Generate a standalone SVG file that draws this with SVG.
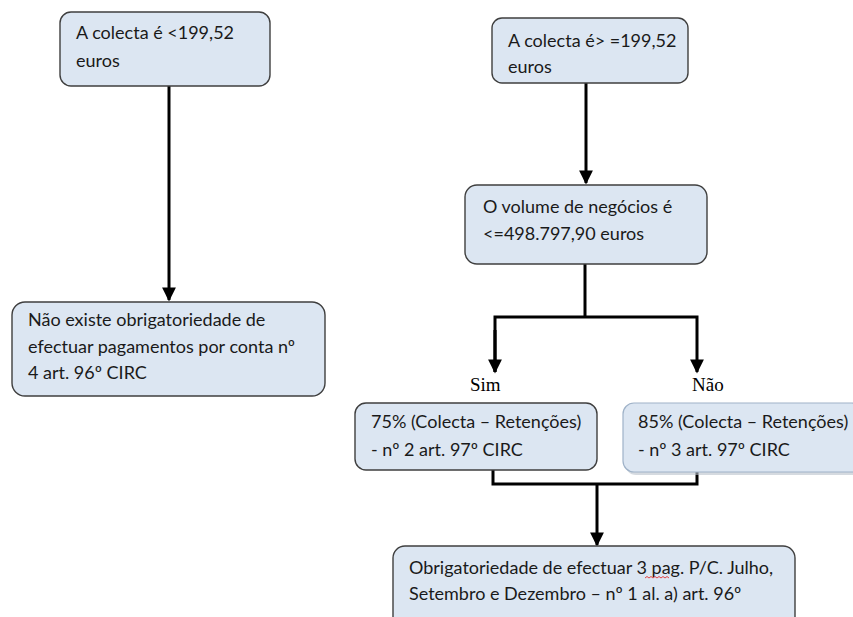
<svg xmlns="http://www.w3.org/2000/svg" width="853" height="617" viewBox="0 0 853 617">
  <style>
    .box { fill: #dce6f2; stroke: #3f3f3f; stroke-width: 1.4; }
    .soft { fill: #dce6f2; stroke: #9fb2c8; stroke-width: 1.2; }
    .shadow { fill: #b9c2cc; opacity: 0.6; }
    .t { font-family: Lato, "Liberation Sans", sans-serif; font-size: 18px; fill: #1a1a1a; }
    .lbl { font-family: "Liberation Serif", serif; font-size: 19px; fill: #000; }
    .wire { fill: none; stroke: #000; stroke-width: 3; }
    .squiggle { fill: none; stroke: #e03030; stroke-width: 0.9; }
  </style>
  <defs>
    <marker id="arrow" viewBox="0 0 10 10" refX="9" refY="5" markerWidth="4.8" markerHeight="4.6" orient="auto" markerUnits="strokeWidth">
      <path d="M0,0 L10,5 L0,10 Z" fill="#000"/>
    </marker>
  </defs>
  <rect width="853" height="617" fill="#fff"/>

  <g id="connectors">
    <line class="wire" x1="169" y1="86" x2="169" y2="300" marker-end="url(#arrow)"/>
    <line class="wire" x1="586" y1="83" x2="586" y2="183" marker-end="url(#arrow)"/>
    <polyline class="wire" points="585,264 585,317"/>
    <polyline class="wire" points="495,372 495,317 697,317 697,372" marker-end="url(#arrow)"/>
    <line class="wire" x1="495" y1="330" x2="495" y2="372" marker-end="url(#arrow)"/>
    <polyline class="wire" points="493,470 493,484 697,484 697,472"/>
    <line class="wire" x1="597" y1="484" x2="597" y2="545" marker-end="url(#arrow)"/>
  </g>

  <g id="n1">
    <rect class="box" x="60" y="12" width="210" height="74" rx="11"/>
    <text class="t" x="76" y="39">A colecta é &lt;199,52</text>
    <text class="t" x="76" y="67">euros</text>
  </g>

  <g id="n2">
    <rect class="box" x="12" y="302" width="313" height="94" rx="13"/>
    <text class="t" x="28" y="326">Não existe obrigatoriedade de</text>
    <text class="t" x="28" y="353">efectuar pagamentos por conta nº</text>
    <text class="t" x="28" y="379">4 art. 96º CIRC</text>
  </g>

  <g id="n3">
    <rect class="box" x="492" y="18" width="196" height="65" rx="10"/>
    <text class="t" x="508" y="47">A colecta é&gt; =199,52</text>
    <text class="t" x="508" y="73">euros</text>
  </g>

  <g id="n4">
    <rect class="box" x="465" y="185" width="242" height="79" rx="12"/>
    <text class="t" x="483" y="213">O volume de negócios é</text>
    <text class="t" x="483" y="240">&lt;=498.797,90 euros</text>
  </g>

  <g id="sim">
    <text class="lbl" x="470" y="391">Sim</text>
  </g>
  <g id="nao">
    <text class="lbl" x="692" y="391">Não</text>
  </g>

  <g id="n5">
    <rect class="box" x="355" y="403" width="242" height="67" rx="11"/>
    <text class="t" x="371" y="428">75% (Colecta – Retenções)</text>
    <text class="t" x="371" y="456">- nº 2 art. 97º CIRC</text>
  </g>

  <g id="n6">
    <rect class="shadow" x="625" y="406" width="240" height="69" rx="11"/>
    <rect class="soft" x="623" y="403" width="240" height="69" rx="11"/>
    <text class="t" x="638" y="428">85% (Colecta – Retenções)</text>
    <text class="t" x="638" y="456">- nº 3 art. 97º CIRC</text>
  </g>

  <g id="n7">
    <rect class="box" x="393" y="546" width="402" height="90" rx="12"/>
    <text class="t" x="409" y="574">Obrigatoriedade de efectuar 3 pag. P/C. Julho,</text>
    <text class="t" x="409" y="600">Setembro e Dezembro – nº 1 al. a) art. 96º</text>
    <path class="squiggle" d="M645,578 l2,-1.5 l2,1.5 l2,-1.5 l2,1.5 l2,-1.5 l2,1.5 l2,-1.5 l2,1.5 l2,-1.5 l2,1.5 l2,-1.5 l2,1.5"/>
  </g>
</svg>
